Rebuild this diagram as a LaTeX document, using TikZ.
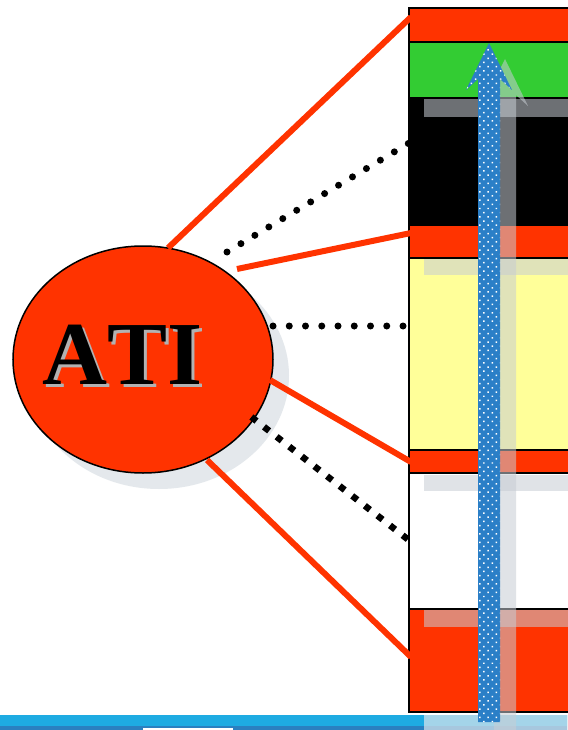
\documentclass[tikz,border=0pt]{standalone}
\usepackage{fontspec}
\newfontfamily\atifont[Kerning=Off]{Liberation Serif}
\usetikzlibrary{shapes.geometric,patterns.meta}
\definecolor{atired}{HTML}{FF3300}
\definecolor{atigreen}{HTML}{33CC33}
\definecolor{atiyellow}{HTML}{FFFF99}
\definecolor{arrowblue}{HTML}{2B7FC7}
\definecolor{barblue}{HTML}{1EABE2}
\definecolor{bardark}{HTML}{2A80C0}
\definecolor{shadowgrey}{HTML}{C8CDD4}
\definecolor{barshadow}{HTML}{DDE6EC}
\definecolor{ellshadow}{HTML}{E4E8EC}
\begin{document}
\begin{tikzpicture}[x=1pt,y=-1pt,
  redline/.style={draw=atired, line width=6pt},
  rounddots/.style={draw=black, line width=7pt, line cap=round, dash pattern=on 0pt off 16.25pt},
  squaredots/.style={draw=black, line width=6.5pt, dash pattern=on 6.5pt off 9.5pt},
  layerbox/.style={draw=black, line width=2pt},
  shadowband/.style={fill=shadowgrey, fill opacity=0.55},
  ellbox/.style={ellipse, minimum width=260pt, minimum height=227pt, inner sep=0pt},
  atitext/.style={anchor=base west, inner sep=0pt, font=\atifont\bfseries\fontsize{90}{90}\selectfont}
]
\useasboundingbox (0,0) rectangle (567,730);
\fill[white] (0,0) rectangle (567,730);

% bottom bar
\fill[barblue] (0,715) rectangle (567,726);
\fill[bardark] (0,726) rectangle (567,730);
\fill[white] (143,728) rectangle (233,730);

% layer stack
\filldraw[layerbox, fill=atired] (409,8) rectangle (580,42);
\filldraw[layerbox, fill=atigreen] (409,42) rectangle (580,98);
\filldraw[layerbox, fill=black] (409,98) rectangle (580,225);
\filldraw[layerbox, fill=atired] (409,225) rectangle (580,258);
\filldraw[layerbox, fill=atiyellow] (409,258) rectangle (580,450);
\filldraw[layerbox, fill=atired] (409,450) rectangle (580,473);
\filldraw[layerbox, fill=white] (409,473) rectangle (580,609);
\filldraw[layerbox, fill=atired] (409,609) rectangle (580,712);

% shadow bands of the stack
\fill[shadowband] (424,99) rectangle (580,117);
\fill[shadowband] (424,259) rectangle (580,275);
\fill[shadowband] (424,474.5) rectangle (580,491);
\fill[shadowband] (424,610) rectangle (580,627);
\fill[barshadow, fill opacity=0.7] (424,715) rectangle (580,730);

% arrow shadow
\fill[shadowband, shift={(16,16)}] (489,43) -- (512,90) -- (500,79) -- (500,730) -- (478,730) -- (478,79) -- (466,90) -- cycle;

% blue dotted arrow
\path[fill=arrowblue, postaction={pattern={Dots[distance=5.9pt, angle=45, radius=1.05pt]}, pattern color=white}]
  (489,43) -- (512,90) -- (500,79) -- (500,722) -- (478,722) -- (478,79) -- (466,90) -- cycle;

% ellipse with shadow
\node[ellbox, fill=ellshadow] (atishadow) at (159,375.5) {};
\node[ellbox, draw=black, line width=1.5pt, fill=atired] (ati) at (143,359.5) {};

% end points
\coordinate (e1) at (168,248);   \coordinate (s1) at (411,17);
\coordinate (e2) at (227,252);   \coordinate (s2) at (408.6,143.3);
\coordinate (e3) at (237,269);   \coordinate (s3) at (411,233);
\coordinate (e4) at (273,326);   \coordinate (s4) at (403.3,326);
\coordinate (e5) at (270,380);   \coordinate (s5) at (411,462);
\coordinate (e6) at (251.4,417); \coordinate (s6) at (408,539.5);
\coordinate (e7) at (207,460);   \coordinate (s7) at (411,657);

% connectors
\draw[redline] (e1) -- (s1);
\draw[rounddots] (e2) -- (s2);
\draw[redline] (e3) -- (s3);
\draw[rounddots] (e4) -- (s4);
\draw[redline] (e5) -- (s5);
\draw[squaredots] (e6) -- (s6);
\draw[redline] (e7) -- (s7);

% label
\node[atitext, text=black!30] (atishade) at (45,387) {ATI};
\node[atitext, text=black] (atilabel) at (42,384) {ATI};
\end{tikzpicture}
\end{document}
